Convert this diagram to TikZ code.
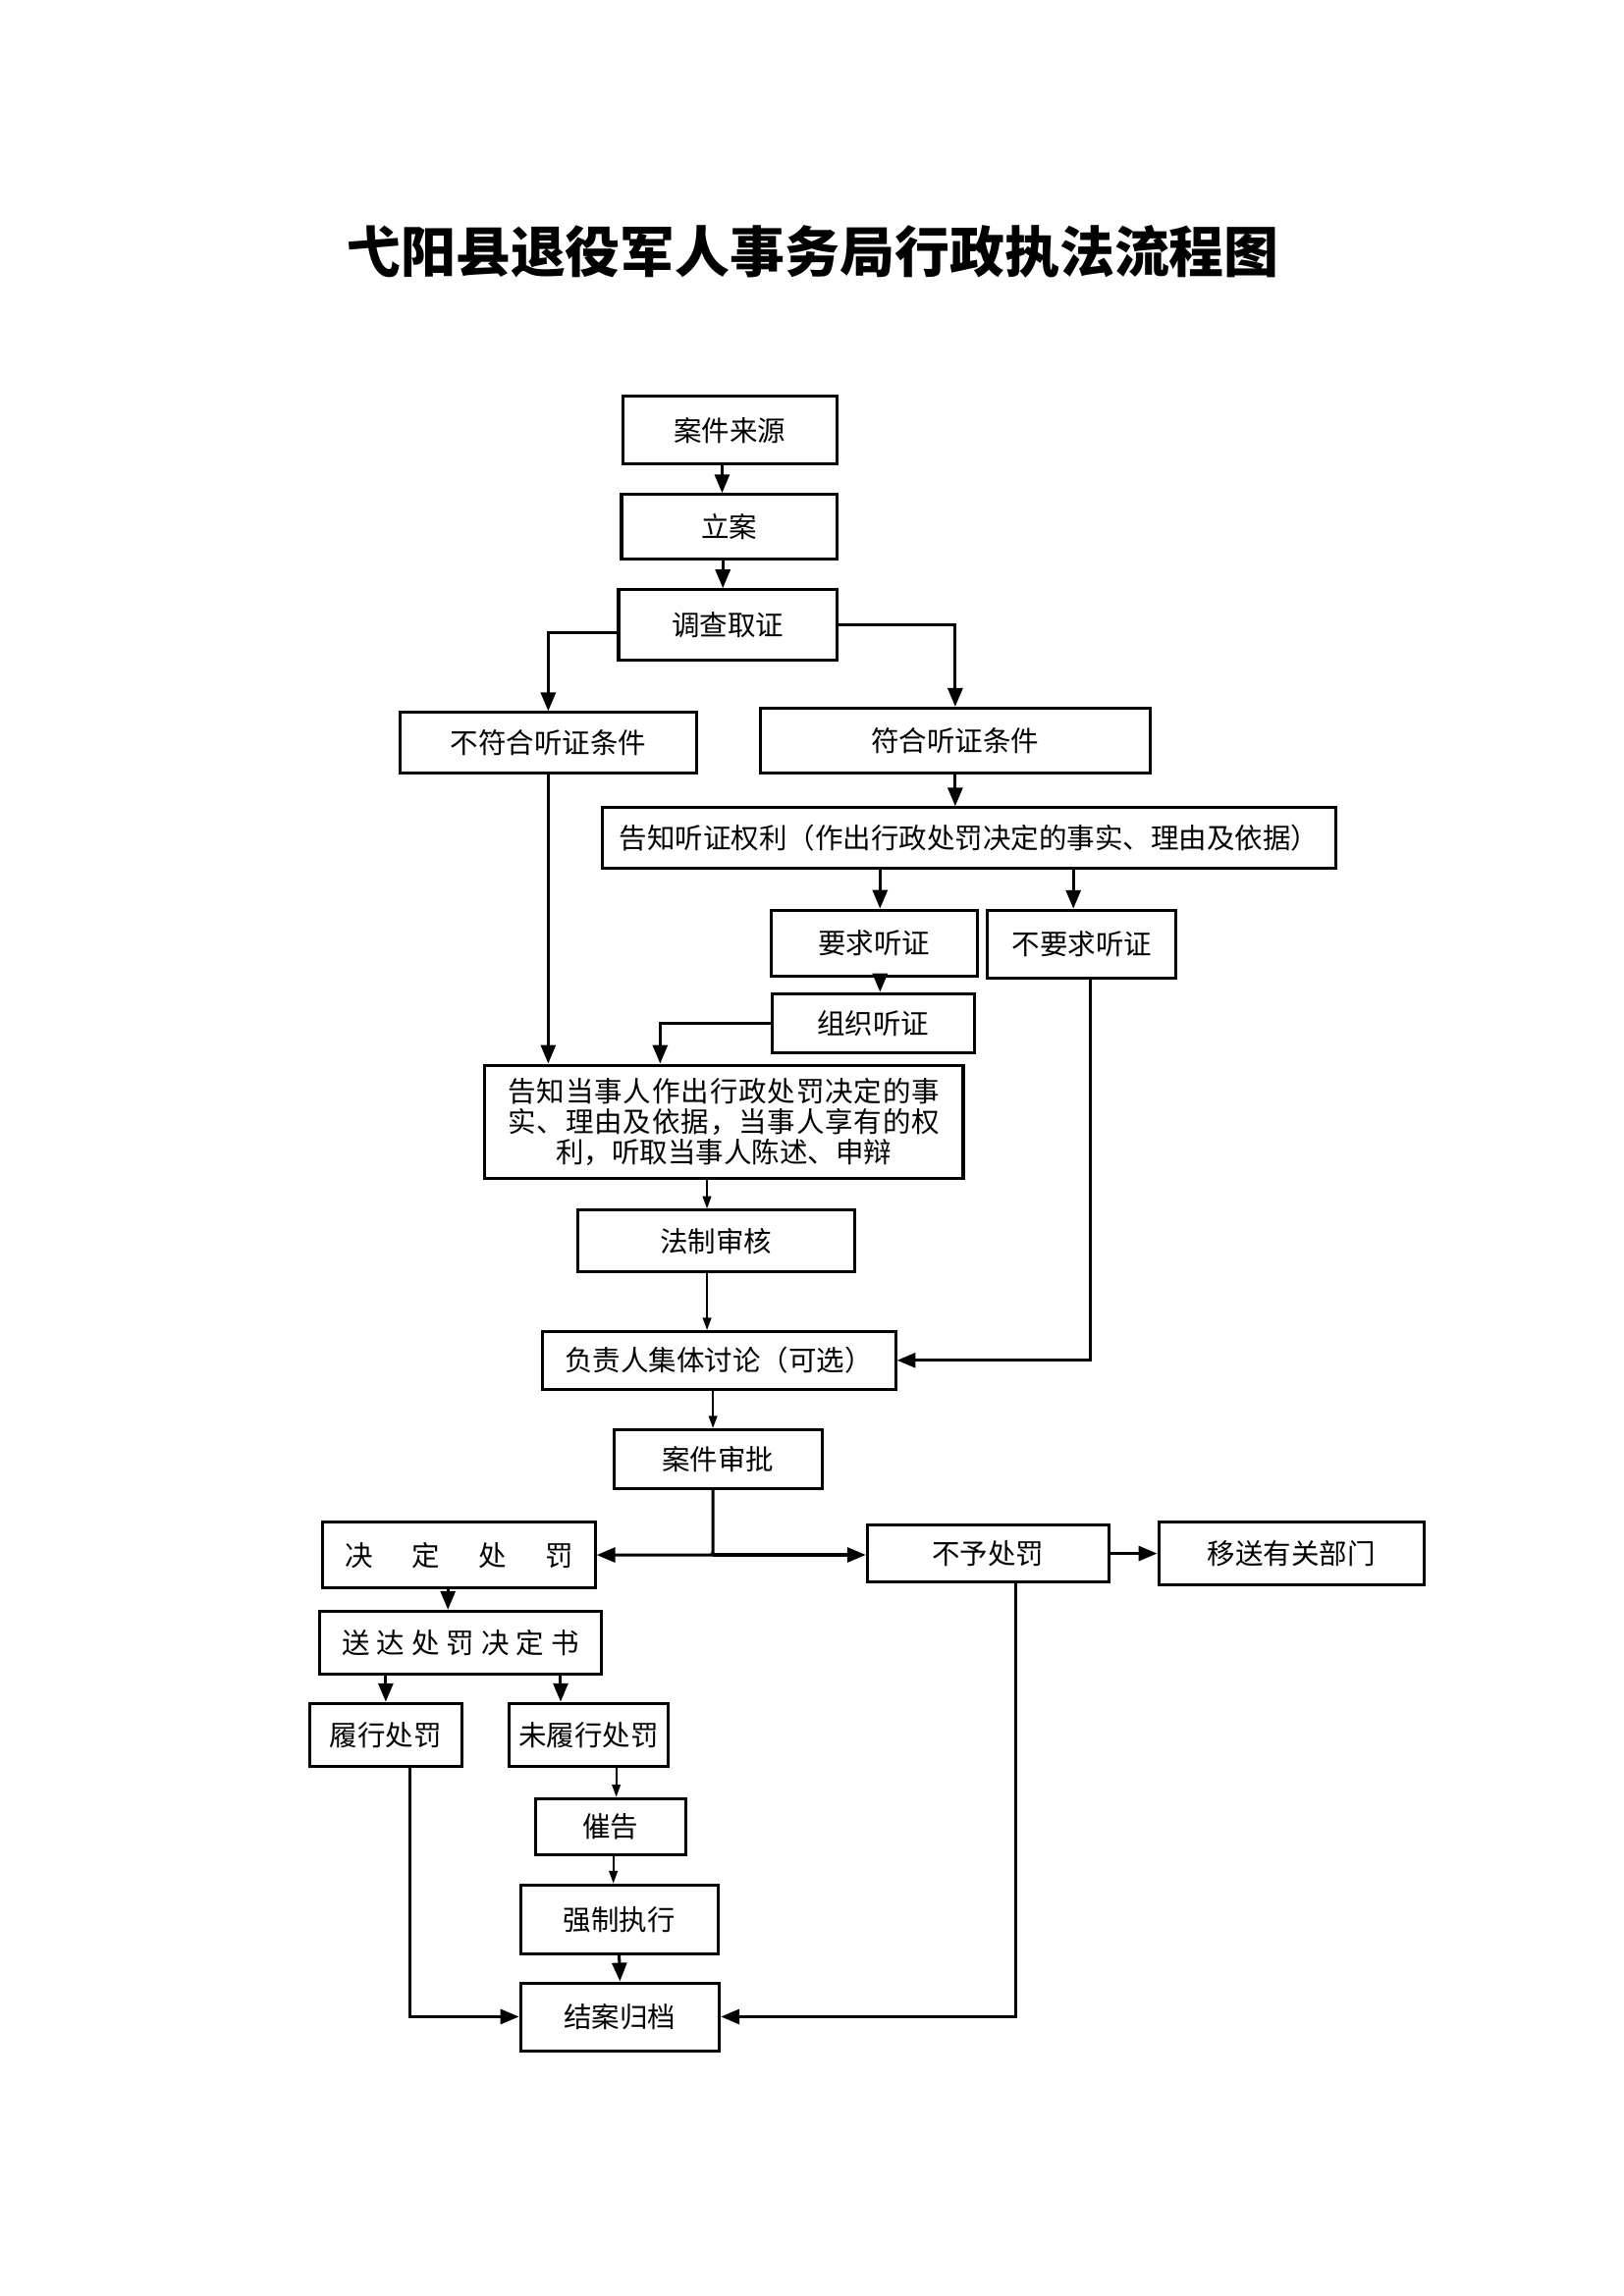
\documentclass[tikz,border=0pt]{standalone}
\usepackage{fontspec}
\setmainfont{Noto Sans CJK SC}
\usetikzlibrary{arrows.meta}
\usetikzlibrary{positioning}

\begin{document}
\begin{tikzpicture}[
        box/.style={draw, line width=1.1pt, inner sep=1pt, align=center, font=\fontsize{10.3pt}{11.1pt}\selectfont},
        arr/.style={line width=1.1pt, -{Triangle[length=0.24cm,width=0.19cm]}},
        tarr/.style={line width=0.7pt, -{Triangle[length=0.16cm,width=0.11cm]}},
        plain/.style={line width=1.1pt}]
        \useasboundingbox (0,0) rectangle (21,-29.7);
        \begin{scope}[scale=0.994]
        \node[font=\bfseries\fontsize{20.2pt}{20.2pt}\selectfont] (title) at (10.571,-3.276) {弋阳县退役军人事务局行政执法流程图};
        % upper part
        \node[box, minimum width=2.762cm, minimum height=0.876cm] (src) at (9.495,-5.600) {案件来源};
        \node[box, minimum width=2.781cm, minimum height=0.838cm] (lian) at (9.485,-6.857) {立案};
        \node[box, minimum width=2.819cm, minimum height=0.914cm] (diaocha) at (9.466,-8.133) {调查取证};
        \node[box, minimum width=3.828cm, minimum height=0.781cm] (bufuhe) at (7.133,-9.666) {不符合听证条件};
        \node[box, minimum width=5.047cm, minimum height=0.838cm] (fuhe) at (12.428,-9.637) {符合听证条件};
        \node[box, minimum width=9.485cm, minimum height=0.781cm] (gaozhi) at (12.608,-10.904) {告知听证权利（作出行政处罚决定的事实、理由及依据）};
        \node[box, minimum width=2.666cm, minimum height=0.857cm] (yaoqiu) at (11.370,-12.275) {要求听证};
        \node[box, minimum width=2.438cm, minimum height=0.876cm] (buyaoqiu) at (14.075,-12.285) {不要求听证};
        \node[box, minimum width=2.609cm, minimum height=0.762cm] (zuzhi) at (11.361,-13.313) {组织听证};
        \node[box, minimum width=6.190cm, minimum height=1.467cm] (dangshiren) at (9.418,-14.599) {\makebox[5.58cm]{告\hfill 知\hfill 当\hfill 事\hfill 人\hfill 作\hfill 出\hfill 行\hfill 政\hfill 处\hfill 罚\hfill 决\hfill 定\hfill 的\hfill 事}\\\makebox[5.58cm]{实\hfill 、\hfill 理\hfill 由\hfill 及\hfill 依\hfill 据\hfill ，\hfill 当\hfill 事\hfill 人\hfill 享\hfill 有\hfill 的\hfill 权}\\利，听取当事人陈述、申辩};
        \node[box, minimum width=3.581cm, minimum height=0.800cm] (fazhi) at (9.313,-16.151) {法制审核};
        \node[box, minimum width=4.571cm, minimum height=0.743cm] (fuzeren) at (9.352,-17.703) {负责人集体讨论（可选）};
        \node[box, minimum width=2.685cm, minimum height=0.762cm] (shenpi) at (9.342,-18.989) {案件审批};
        % lower part
        \node[box, minimum width=3.524cm, minimum height=0.857cm] (jueding) at (5.971,-20.236) {\makebox[2.95cm]{决\hfill 定\hfill 处\hfill 罚}};
        \node[box, minimum width=3.124cm, minimum height=0.743cm] (buyu) at (12.856,-20.217) {不予处罚};
        \node[box, minimum width=3.428cm, minimum height=0.819cm] (yisong) at (16.799,-20.217) {移送有关部门};
        \node[box, minimum width=3.638cm, minimum height=0.819cm] (songda) at (5.990,-21.379) {\makebox[3.07cm]{送\hfill 达\hfill 处\hfill 罚\hfill 决\hfill 定\hfill 书}};
        \node[box, minimum width=1.962cm, minimum height=0.819cm] (lvxing) at (5.019,-22.579) {履行处罚};
        \node[box, minimum width=2.057cm, minimum height=0.819cm] (weilvxing) at (7.656,-22.579) {未履行处罚};
        \node[box, minimum width=1.943cm, minimum height=0.724cm] (cuigao) at (7.942,-23.769) {催告};
        \node[box, minimum width=2.552cm, minimum height=0.895cm] (qiangzhi) at (8.056,-24.979) {强制执行};
        \node[box, minimum width=2.571cm, minimum height=0.876cm] (jiean) at (8.066,-26.245) {结案归档};
        % connectors
        \draw[arr] ([xshift=-0.1cm]src.south) -- ([xshift=-0.1cm]src.south |- lian.north);
        \draw[arr] ([xshift=-0.08cm]lian.south) -- ([xshift=-0.08cm]lian.south |- diaocha.north);
        \draw[arr] ([yshift=-0.095cm]diaocha.west) -| (bufuhe.north);
        \draw[arr] (diaocha.east) -| (fuhe.north);
        \draw[arr] (fuhe.south) -- (fuhe.south |- gaozhi.north);
        \draw[arr] ([xshift=0.08cm]yaoqiu.north |- gaozhi.south) -- ([xshift=0.08cm]yaoqiu.north);
        \draw[arr] ([xshift=-0.11cm]buyaoqiu.north |- gaozhi.south) -- ([xshift=-0.11cm]buyaoqiu.north);
        \draw[arr] ([xshift=0.08cm]yaoqiu.south) -- ([xshift=0.08cm]yaoqiu.south |- zuzhi.north);
        \draw[arr] (zuzhi.west) -| ([xshift=-0.829cm]dangshiren.north);
        \draw[arr] (bufuhe.south) -- (bufuhe.south |- dangshiren.north);
        \draw[tarr] ([xshift=-0.22cm]dangshiren.south) -- ([xshift=-0.22cm]dangshiren.south |- fazhi.north);
        \draw[tarr] ([xshift=-0.114cm]fazhi.south) -- ([xshift=-0.114cm]fazhi.south |- fuzeren.north);
        \draw[arr] ([xshift=0.114cm]buyaoqiu.south) |- (fuzeren.east);
        \draw[tarr] ([xshift=-0.076cm]fuzeren.south) -- ([xshift=-0.076cm]fuzeren.south |- shenpi.north);
        \coordinate (split) at ([xshift=-0.067cm]shenpi.south |- jueding.east);
        \draw[plain] ([xshift=-0.067cm]shenpi.south) -- (split);
        \draw[arr] (split) -- (jueding.east);
        \draw[arr] (split) -- (split -| buyu.west);
        \draw[arr] (buyu.east) -- (buyu.east -| yisong.west);
        \draw[arr] ([xshift=-0.143cm]jueding.south) -- ([xshift=-0.143cm]jueding.south |- songda.north);
        \draw[arr] (lvxing.north |- songda.south) -- (lvxing.north);
        \draw[arr] ([xshift=-0.362cm]weilvxing.north |- songda.south) -- ([xshift=-0.362cm]weilvxing.north);
        \draw[tarr] ([xshift=0.076cm]cuigao.north |- weilvxing.south) -- ([xshift=0.076cm]cuigao.north);
        \draw[tarr] ([xshift=0.038cm]cuigao.south) -- ([xshift=0.038cm]cuigao.south |- qiangzhi.north);
        \draw[arr] (qiangzhi.south) -- (jiean.north);
        \draw[arr] ([xshift=0.314cm]lvxing.south) |- (jiean.west);
        \draw[arr] ([xshift=0.362cm]buyu.south) |- (jiean.east);
        \end{scope}
\end{tikzpicture}
\end{document}
